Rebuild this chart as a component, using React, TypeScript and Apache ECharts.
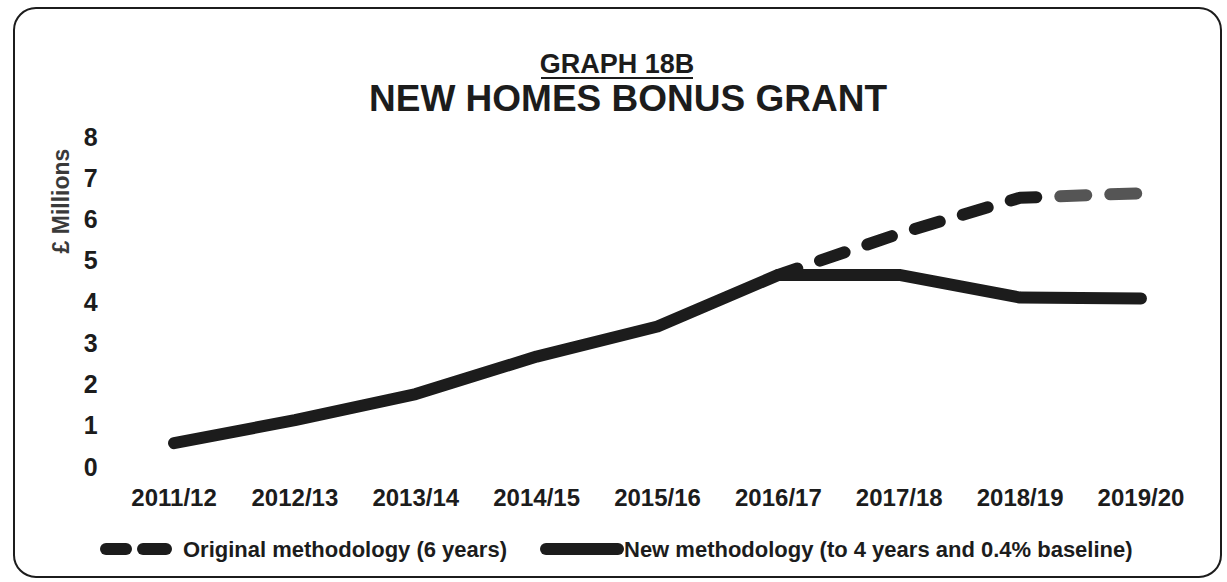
import React, { useEffect, useRef } from "react";
import * as echarts from "echarts";

const categories = [
  "2011/12", "2012/13", "2013/14", "2014/15", "2015/16",
  "2016/17", "2017/18", "2018/19", "2019/20",
];
const originalMethodology = [null, null, null, null, null, 4.65, 5.65, 6.52, 6.63];
const newMethodology = [0.57, 1.13, 1.76, 2.67, 3.4, 4.65, 4.65, 4.1, 4.08];
const yTicks = [0, 1, 2, 3, 4, 5, 6, 7, 8];

const seriesNames = [
  "Original methodology (6 years)",
  "New methodology (to 4 years and 0.4% baseline)",
];
const titleSub = "GRAPH 18B";
const titleMain = "NEW HOMES BONUS GRANT";
const yName = "£ Millions";

const FONT = "'Liberation Sans', Arial, sans-serif";
const INK = "#1c1c1c";

export default function App() {
  const ref = useRef<HTMLDivElement>(null);
  useEffect(() => {
    if (!ref.current) return;
    const chart = echarts.init(ref.current, undefined, { renderer: "svg" });
    chart.setOption({
      animation: false,
      backgroundColor: "#ffffff",
      grid: { left: 113.6, right: 25.6, top: 136.7, bottom: 115.3, containLabel: false },
      xAxis: {
        type: "category",
        data: categories,
        boundaryGap: true,
        axisLine: { show: false },
        axisTick: { show: false },
        axisLabel: {
          margin: 19,
          color: INK,
          fontFamily: FONT,
          fontWeight: "bold",
          fontSize: 24,
        },
      },
      yAxis: {
        type: "value",
        min: yTicks[0],
        max: yTicks[yTicks.length - 1],
        interval: 1,
        splitLine: { show: false },
        axisLine: { show: false },
        axisTick: { show: false },
        axisLabel: {
          margin: 16,
          color: INK,
          fontFamily: FONT,
          fontWeight: "bold",
          fontSize: 25,
        },
      },
      series: [
        {
          name: seriesNames[1],
          type: "line",
          data: newMethodology,
          showSymbol: false,
          symbol: "none",
          z: 2,
          lineStyle: { color: INK, width: 12, cap: "round", join: "round" },
        },
        {
          name: seriesNames[0],
          type: "line",
          data: originalMethodology,
          showSymbol: false,
          symbol: "none",
          connectNulls: false,
          z: 3,
          lineStyle: {
            width: 12,
            cap: "round",
            join: "round",
            type: [26, 24],
            dashOffset: 6,
            color: {
              type: "linear",
              x: 0, y: 0, x2: 1, y2: 0,
              colorStops: [
                { offset: 0, color: INK },
                { offset: 0.745, color: INK },
                { offset: 0.75, color: "#555555" },
                { offset: 1, color: "#555555" },
              ],
              global: false,
            },
          },
        },
      ],
      graphic: [
        {
          type: "rect",
          shape: { x: 14, y: 8, width: 1207, height: 569, r: 22 },
          style: { fill: "none", stroke: INK, lineWidth: 2 },
          silent: true,
        },
        {
          type: "text",
          x: 617,
          y: 64,
          style: {
            text: titleSub,
            fill: INK,
            font: `bold 27px ${FONT}`,
            textAlign: "center",
            textVerticalAlign: "middle",
          },
        },
        {
          type: "line",
          shape: { x1: 541, y1: 78, x2: 693, y2: 78 },
          style: { stroke: INK, lineWidth: 2 },
        },
        {
          type: "text",
          x: 628,
          y: 98,
          style: {
            text: titleMain,
            fill: INK,
            font: `bold 37px ${FONT}`,
            textAlign: "center",
            textVerticalAlign: "middle",
          },
        },
        {
          type: "text",
          x: 61,
          y: 201,
          rotation: Math.PI / 2,
          style: {
            text: yName,
            fill: "#3a3a3a",
            font: `bold 23px ${FONT}`,
            textAlign: "center",
            textVerticalAlign: "middle",
          },
        },
        {
          type: "line",
          shape: { x1: 106, y1: 549, x2: 126, y2: 549 },
          style: { stroke: INK, lineWidth: 12, lineCap: "round" },
        },
        {
          type: "line",
          shape: { x1: 143, y1: 549, x2: 166, y2: 549 },
          style: { stroke: INK, lineWidth: 12, lineCap: "round" },
        },
        {
          type: "text",
          x: 183,
          y: 549,
          style: {
            text: seriesNames[0],
            fill: INK,
            font: `bold 22px ${FONT}`,
            textAlign: "left",
            textVerticalAlign: "middle",
          },
        },
        {
          type: "line",
          shape: { x1: 546, y1: 549, x2: 618, y2: 549 },
          style: { stroke: INK, lineWidth: 12, lineCap: "round" },
        },
        {
          type: "text",
          x: 624,
          y: 549,
          style: {
            text: seriesNames[1],
            fill: INK,
            font: `bold 22px ${FONT}`,
            textAlign: "left",
            textVerticalAlign: "middle",
          },
        },
      ],
    });
    return () => chart.dispose();
  }, []);
  return (
    <div
      ref={ref}
      style={{ position: "fixed", left: 0, top: 0, width: 1227, height: 582, background: "#fff" }}
    />
  );
}
